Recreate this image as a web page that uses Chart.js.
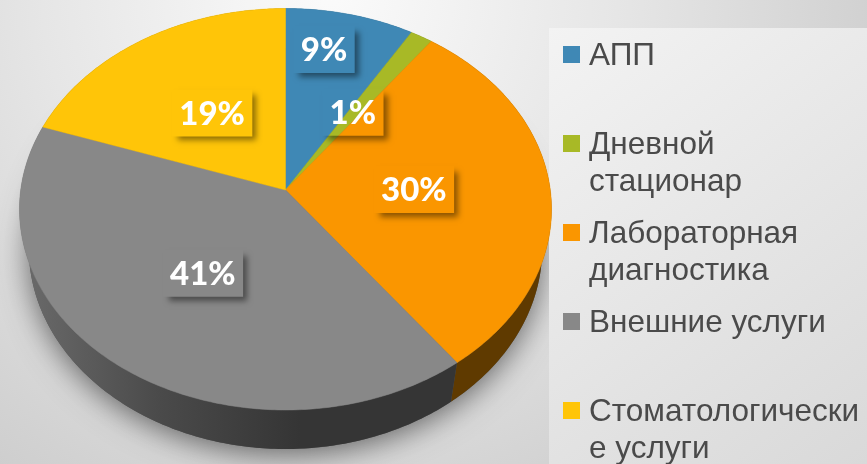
<!DOCTYPE html>
<html>
<head>
<meta charset="utf-8">
<style>
  html, body { margin: 0; padding: 0; background: #e4e4e4; }
  #wrap { width: 867px; height: 464px; }
</style>
<script src="https://cdn.jsdelivr.net/npm/chart.js@4"></script>
</head>
<body>
<div id="wrap"><canvas id="pieChart" width="867" height="464"></canvas></div>
<script>
const categories = ['АПП', 'Дневной\nстационар', 'Лабораторная\nдиагностика', 'Внешние услуги', 'Стоматологически\nе услуги'];
// slice shares, printed labels are the rounded ones on the slide
const shares = [8.6, 1.5, 29.7, 40.5, 19.7];
const percentLabels = ['9%', '1%', '30%', '41%', '19%'];

const topColors = ['#3f88b5', '#a8b926', '#fa9600', '#888888', '#ffc508'];
const wallColors = ['#234c66', '#5e6815', '#5f3a00', null, '#8f6e04'];
const labelNudges = [[-8, -14.5], [-30, 32], [-57, 0], [33, -35.5], [28.5, 30.5]];

// perspective of the tilted pie: disc coords -> screen
const APEX = { x: 285.5, y: 190 };
const TILT = { a: 264.8, b: 198.9, k: 0.0958 };
const WALL = { drop: 39, shrink: 0.035 };

function project(X, Y, depth) {
  const w = 1 + TILT.k * Y;
  const x = APEX.x + TILT.a * X / w;
  const y = APEX.y - TILT.b * Y / w;
  if (!depth) return { x, y };
  return { x: APEX.x + (x - APEX.x) * (1 - WALL.shrink), y: y + WALL.drop };
}

function rimPoints(start, end, depth) {
  const steps = Math.max(2, Math.ceil((end - start) / (Math.PI / 240)));
  const pts = [];
  for (let i = 0; i <= steps; i++) {
    const a = start + (end - start) * i / steps;
    pts.push(project(Math.cos(a), -Math.sin(a), depth));
  }
  return pts;
}

function tracePath(ctx, pts) {
  ctx.beginPath();
  pts.forEach((p, i) => (i ? ctx.lineTo(p.x, p.y) : ctx.moveTo(p.x, p.y)));
  ctx.closePath();
}

const tiltedPie = {
  id: 'tiltedPie',
  beforeDraw(chart) {
    const ctx = chart.ctx;
    const W = chart.width, H = chart.height;
    const bg = ctx.createRadialGradient(330, -10, 0, 330, -10, 640);
    bg.addColorStop(0, '#fbfbfb');
    bg.addColorStop(0.45, '#e6e6e6');
    bg.addColorStop(1, '#c9c9c9');
    ctx.fillStyle = bg;
    ctx.fillRect(0, 0, W, H);

    // soft shadow under the pie
    ctx.save();
    ctx.shadowColor = 'rgba(0,0,0,0.55)';
    ctx.shadowBlur = 30;
    ctx.shadowOffsetY = 5;
    ctx.fillStyle = '#555';
    tracePath(ctx, rimPoints(0, Math.PI * 2, 1));
    ctx.fill();
    ctx.restore();

    const panel = ctx.createLinearGradient(549, 28, 867, 464);
    panel.addColorStop(0, '#f3f3f3');
    panel.addColorStop(1, '#d9d9d9');
    ctx.fillStyle = panel;
    ctx.fillRect(549, 28, W - 549, H - 28);
  },
  beforeDatasetsDraw(chart) {
    const ctx = chart.ctx;
    const arcs = chart.getDatasetMeta(0).data;

    // side wall first, the top face covers its back half
    const grayWall = ctx.createLinearGradient(20, 0, 300, 0);
    grayWall.addColorStop(0, '#6b6b6b');
    grayWall.addColorStop(0.5, '#4a4a4a');
    grayWall.addColorStop(1, '#353535');
    arcs.forEach((arc, i) => {
      const top = rimPoints(arc.startAngle, arc.endAngle, 0);
      const low = rimPoints(arc.startAngle, arc.endAngle, 1).reverse();
      tracePath(ctx, top.concat(low));
      ctx.fillStyle = wallColors[i] || grayWall;
      ctx.fill();
    });

    arcs.forEach((arc, i) => {
      tracePath(ctx, [APEX].concat(rimPoints(arc.startAngle, arc.endAngle, 0)));
      ctx.fillStyle = topColors[i];
      ctx.strokeStyle = topColors[i];
      ctx.lineWidth = 0.5;
      ctx.fill();
      ctx.stroke();
    });

    arcs.forEach((arc, i) => drawPercent(ctx, arc, i));
    drawLegend(ctx);
    return false;
  }
};

function drawPercent(ctx, arc, i) {
  const mid = (arc.startAngle + arc.endAngle) / 2;
  const p = project(0.7 * Math.cos(mid), -0.7 * Math.sin(mid), 0);
  const cx = p.x + labelNudges[i][0];
  const cy = p.y + labelNudges[i][1];
  ctx.font = '900 33px Lato';
  const w = ctx.measureText(percentLabels[i]).width + 15;
  const h = 47;

  // box is see-through, only its shadow shows
  ctx.save();
  ctx.beginPath();
  ctx.rect(0, 0, 867, 464);
  ctx.rect(cx - w / 2, cy - h / 2, w, h);
  ctx.clip('evenodd');
  ctx.shadowColor = 'rgba(0,0,0,0.45)';
  ctx.shadowBlur = 6;
  ctx.shadowOffsetX = 5;
  ctx.shadowOffsetY = 5;
  ctx.fillStyle = '#000';
  ctx.fillRect(cx - w / 2 + 1, cy - h / 2 + 1, w - 2, h - 2);
  ctx.restore();

  ctx.fillStyle = '#ffffff';
  ctx.textAlign = 'center';
  ctx.textBaseline = 'middle';
  ctx.fillText(percentLabels[i], cx, cy + 1);
}

function drawLegend(ctx) {
  ctx.textAlign = 'left';
  ctx.textBaseline = 'middle';
  ctx.font = '31.5px "Liberation Sans"';
  categories.forEach((name, i) => {
    const y = 54.5 + i * 89;
    ctx.fillStyle = topColors[i];
    ctx.fillRect(563, y - 8.5, 17, 17);
    ctx.fillStyle = '#4a4a4a';
    name.split('\n').forEach((line, j) => ctx.fillText(line, 589, y + 2 + j * 37));
  });
}

new Chart(document.getElementById('pieChart'), {
  type: 'pie',
  data: {
    labels: categories,
    datasets: [{ data: shares, backgroundColor: topColors }]
  },
  options: {
    responsive: false,
    animation: false,
    plugins: {
      legend: { display: false },
      tooltip: { enabled: false }
    }
  },
  plugins: [tiltedPie]
});
</script>
</body>
</html>
